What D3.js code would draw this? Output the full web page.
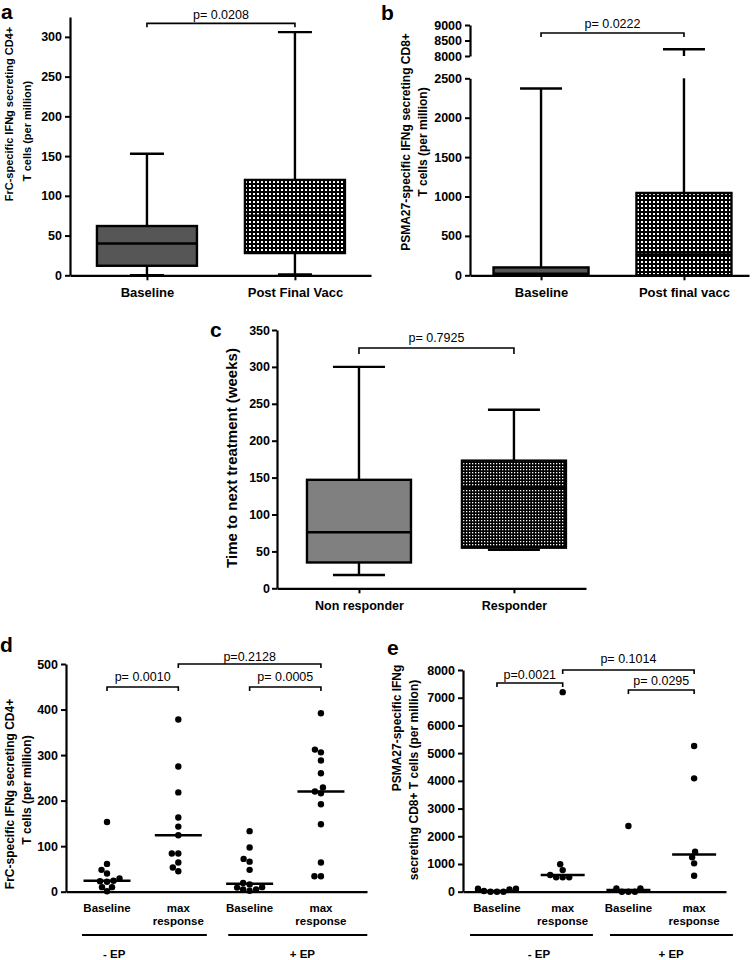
<!DOCTYPE html>
<html>
<head>
<meta charset="utf-8">
<script src="https://cdn.jsdelivr.net/npm/d3@7"></script>
<style>
  body { margin: 0; background: #fff; }
</style>
</head>
<body>
<svg id="fig" width="756" height="960"></svg>
<script>
// ---- panel a : FrC CD4+ box plot
const aCats = ["Baseline", "Post Final Vacc"];
const aMin = [0, 1], aQ1 = [12, 28], aMed = [40, 75], aQ3 = [62, 120], aMax = [153, 306];
const aTicks = [0, 50, 100, 150, 200, 250, 300];

// ---- panel b : PSMA27 CD8+ box plot (broken axis)
const bCats = ["Baseline", "Post final vacc"];
const bMin = [0, 0], bQ1 = [0, 0], bMed = [20, 265], bQ3 = [100, 1045], bMax = [2370, 8220];
const bTicksLow = [0, 500, 1000, 1500, 2000, 2500];
const bTicksHigh = [8000, 8500, 9000];

// ---- panel c : time to next treatment
const cCats = ["Non responder", "Responder"];
const cMin = [18, 52], cQ1 = [35, 55], cMed = [76, 136], cQ3 = [147, 173], cMax = [300, 242];
const cTicks = [0, 50, 100, 150, 200, 250, 300, 350];

// ---- panel d : FrC scatter, -EP / +EP
const dCats = ["Baseline", "max response", "Baseline", "max response"];
const dNoEpBase = [153, 61, 48, 40, 29, 24, 23, 22, 10, 10, 1];
const dNoEpMax = [378, 275, 218, 163, 143, 124, 84, 84, 64, 53, 45];
const dEpBase = [133, 97, 72, 66, 48, 19, 16, 10, 9, 5, 5, 2];
const dEpMax = [392, 312, 306, 288, 260, 229, 220, 216, 192, 148, 64, 34, 34];
const dTicks = [0, 100, 200, 300, 400, 500];

// ---- panel e : PSMA27 scatter, -EP / +EP
const eCats = ["Baseline", "max response", "Baseline", "max response"];
const eNoEpBase = [108, 84, 0, 0, 0, 24, 108];
const eNoEpMax = [7200, 990, 780, 600, 517, 517, 517];
const eEpBase = [2370, 120, 0, 0, 0, 120];
const eEpMax = [5257, 4090, 1444, 1240, 1023, 578];
const eTicks = [0, 1000, 2000, 3000, 4000, 5000, 6000, 7000, 8000];

const groups = ["- EP", "+ EP"];

// p-value brackets: [from, to, level (data units), label]
const aP = [[0, 1, 317, "p= 0.0208"]];
const bP = [[0, 1, 8742, "p= 0.0222"]];
const cP = [[0, 1, 325.6, "p= 0.7925"]];
const dP = [[0, 1, 449.5, "p= 0.0010"], [1, 3, 500, "p=0.2128"], [2, 3, 449.5, "p= 0.0005"]];
const eP = [[0, 1, 7531, "p=0.0021"], [1, 3, 8000, "p= 0.1014"], [2, 3, 7279, "p= 0.0295"]];

const FONT = '"Liberation Sans", Arial, Helvetica, sans-serif';
const fmt = d3.format("d");
const svg = d3.select("#fig");

// fills
const defs = svg.append("defs");
const pa = defs.append("pattern").attr("id", "checkA")
  .attr("width", 4).attr("height", 4).attr("patternUnits", "userSpaceOnUse");
pa.append("rect").attr("width", 4).attr("height", 4).attr("fill", "#000");
pa.append("rect").attr("x", 1).attr("y", 1).attr("width", 2).attr("height", 2).attr("fill", "#fff");
const pc = defs.append("pattern").attr("id", "checkC")
  .attr("width", 3).attr("height", 3).attr("patternUnits", "userSpaceOnUse");
pc.append("rect").attr("width", 3).attr("height", 3).attr("fill", "#000");
pc.append("rect").attr("x", 1).attr("y", 1).attr("width", 1.3).attr("height", 1.3).attr("fill", "#fff");

function styleAxis(g, size) {
  g.attr("font-family", FONT).attr("font-size", size).attr("font-weight", "bold");
  g.select(".domain").attr("stroke-width", 2.2);
  g.selectAll(".tick line").attr("stroke-width", 2);
  g.selectAll(".tick text").attr("fill", "#000");
}

function yLabel(lines) {
  lines.forEach(([txt, x, y, size]) => {
    svg.append("text")
      .attr("transform", `translate(${x},${y}) rotate(-90)`)
      .attr("text-anchor", "middle")
      .attr("font-family", FONT).attr("font-weight", "bold").attr("font-size", size)
      .text(txt);
  });
}

function letter(t, x, y) {
  svg.append("text").attr("x", x).attr("y", y)
    .attr("font-family", FONT).attr("font-weight", "bold").attr("font-size", 21)
    .text(t);
}

function brackets(list, x, y, drop, gap) {
  list.forEach(([i, j, lvl, lab], k) => {
    const yy = y(lvl);
    svg.append("path")
      .attr("d", `M${x(i)},${yy + drop}V${yy}H${x(j)}V${yy + drop}`)
      .attr("fill", "none").attr("stroke", "#000").attr("stroke-width", 1.6);
    svg.append("text")
      .attr("x", (x(i) + x(j)) / 2).attr("y", yy - gap[k])
      .attr("text-anchor", "middle")
      .attr("font-family", FONT).attr("font-size", 12.5)
      .text(lab);
  });
}

function box(i, x, y, st, w, cap, fill) {
  const [mn, q1, md, q3, mx] = st;
  const cx = x(i);
  const g = svg.append("g").attr("stroke", "#000").attr("stroke-width", 2.4);
  g.append("line").attr("x1", cx).attr("x2", cx).attr("y1", y(q3)).attr("y2", y(mx));
  g.append("line").attr("x1", cx).attr("x2", cx).attr("y1", y(q1)).attr("y2", y(mn));
  g.append("line").attr("x1", cx - cap / 2).attr("x2", cx + cap / 2).attr("y1", y(mx)).attr("y2", y(mx));
  g.append("line").attr("x1", cx - cap / 2).attr("x2", cx + cap / 2).attr("y1", y(mn)).attr("y2", y(mn));
  g.append("rect").attr("x", cx - w / 2).attr("width", w)
    .attr("y", y(q3)).attr("height", Math.max(1, y(q1) - y(q3))).attr("fill", fill);
  g.append("line").attr("x1", cx - w / 2).attr("x2", cx + w / 2).attr("y1", y(md)).attr("y2", y(md));
}

// greedy beeswarm around a category centre
function swarm(vals, cx, y, r) {
  const placed = [];
  vals.map(v => y(v)).sort((p, q) => q - p).forEach(py => {
    let off = 0;
    for (let k = 0; k < 400; k++) {
      const c = k === 0 ? 0 : (k % 2 ? -1 : 1) * Math.ceil(k / 2) * 0.5;
      if (placed.every(p => Math.hypot(p.x - (cx + c), p.y - py) >= 2 * r - 0.2)) { off = c; break; }
    }
    placed.push({ x: cx + off, y: py });
  });
  return placed;
}

// ================= panel a
{
  const x = d3.scaleLinear().domain([-0.52, 1.514]).range([70, 371]);
  const y = d3.scaleLinear().domain([0, 325]).range([275.3, 17]);
  const ga = svg.append("g").attr("transform", "translate(70,0)")
    .call(d3.axisLeft(y).tickValues(aTicks).tickFormat(fmt).tickSize(5).tickSizeOuter(0).tickPadding(3));
  styleAxis(ga, 12.5);
  const gx = svg.append("g").attr("transform", "translate(0,275.3)")
    .call(d3.axisBottom(x).tickValues([0, 1]).tickFormat(i => aCats[i]).tickSize(5).tickSizeOuter(0).tickPadding(7));
  styleAxis(gx, 13);
  const fills = ["#565656", "url(#checkA)"];
  aCats.forEach((c, i) => box(i, x, y, [aMin[i], aQ1[i], aMed[i], aQ3[i], aMax[i]], 100, 34, fills[i]));
  brackets(aP, x, y, 4, [4]);
  yLabel([["FrC-specific IFNg secreting CD4+", 13, 114, 11], ["T cells (per million)", 31, 131, 11]]);
  letter("a", 1, 19);
}

// ================= panel b
{
  const x = d3.scaleLinear().domain([-0.497, 1.455]).range([470, 749]);
  const yLo = d3.scaleLinear().domain([0, 2500]).range([275.3, 78.3]);
  const yHi = d3.scaleLinear().domain([8000, 9000]).range([56, 25]);
  const y = v => (v <= 2500 ? yLo(v) : yHi(v));
  const g1 = svg.append("g").attr("transform", "translate(470,0)")
    .call(d3.axisLeft(yLo).tickValues(bTicksLow).tickFormat(fmt).tickSize(5).tickSizeOuter(0).tickPadding(3));
  styleAxis(g1, 12.5);
  const g2 = svg.append("g").attr("transform", "translate(470,0)")
    .call(d3.axisLeft(yHi).tickValues(bTicksHigh).tickFormat(fmt).tickSize(5).tickSizeOuter(0).tickPadding(3));
  styleAxis(g2, 12.5);
  const gx = svg.append("g").attr("transform", "translate(0,275.3)")
    .call(d3.axisBottom(x).tickValues([0, 1]).tickFormat(i => bCats[i]).tickSize(5).tickSizeOuter(0).tickPadding(7));
  styleAxis(gx, 13);

  // baseline box: plain
  box(0, x, y, [bMin[0], bQ1[0], bMed[0], bQ3[0], bMax[0]], 95, 42, "#565656");
  // post box: whisker broken between 2500 and 8000
  const cx = x(1);
  const g = svg.append("g").attr("stroke", "#000").attr("stroke-width", 2.4);
  g.append("line").attr("x1", cx).attr("x2", cx).attr("y1", yLo(bQ3[1])).attr("y2", yLo(2500));
  g.append("line").attr("x1", cx).attr("x2", cx).attr("y1", yHi(8000)).attr("y2", yHi(bMax[1]));
  g.append("line").attr("x1", cx - 21).attr("x2", cx + 21).attr("y1", yHi(bMax[1])).attr("y2", yHi(bMax[1]));
  g.append("rect").attr("x", cx - 47.5).attr("width", 95)
    .attr("y", yLo(bQ3[1])).attr("height", yLo(bQ1[1]) - yLo(bQ3[1])).attr("fill", "url(#checkA)");
  g.append("line").attr("x1", cx - 47.5).attr("x2", cx + 47.5).attr("y1", yLo(bMed[1])).attr("y2", yLo(bMed[1]));

  brackets(bP, x, y, 4, [5]);
  yLabel([["PSMA27-specific IFNg secreting CD8+", 410, 142, 12], ["T cells (per million)", 427, 142, 12]]);
  letter("b", 381, 20);
}

// ================= panel c
{
  const x = d3.scaleLinear().domain([-0.529, 1.465]).range([277, 586]);
  const y = d3.scaleLinear().domain([0, 350]).range([588.3, 330]);
  const ga = svg.append("g").attr("transform", "translate(277,0)")
    .call(d3.axisLeft(y).tickValues(cTicks).tickFormat(fmt).tickSize(5).tickSizeOuter(0).tickPadding(2));
  styleAxis(ga, 12.5);
  const gx = svg.append("g").attr("transform", "translate(0,588.3)")
    .call(d3.axisBottom(x).tickValues([0, 1]).tickFormat(i => cCats[i]).tickSize(5).tickSizeOuter(0).tickPadding(8));
  styleAxis(gx, 12.5);
  const fills = ["#808080", "url(#checkC)"];
  cCats.forEach((c, i) => box(i, x, y, [cMin[i], cQ1[i], cMed[i], cQ3[i], cMax[i]], 104, 52, fills[i]));
  brackets(cP, x, y, 6, [6]);
  yLabel([["Time to next treatment (weeks)", 237, 458, 15]]);
  letter("c", 210, 337);
}

// scatter panel helper
function scatter(x, y, sets, lineW) {
  sets.forEach((vals, i) => {
    swarm(vals, x(i), y, 3.2).forEach(p => {
      svg.append("circle").attr("cx", p.x).attr("cy", p.y).attr("r", 3.2).attr("fill", "#000");
    });
    const m = d3.median(vals);
    svg.append("line").attr("x1", x(i) - lineW / 2).attr("x2", x(i) + lineW / 2)
      .attr("y1", y(m)).attr("y2", y(m)).attr("stroke", "#000").attr("stroke-width", 2.4);
  });
}

function catLabels(x, cats, y0) {
  cats.forEach((c, i) => {
    const t = svg.append("text").attr("x", x(i)).attr("y", y0).attr("text-anchor", "middle")
      .attr("font-family", FONT).attr("font-weight", "bold").attr("font-size", 11.5);
    c.split(" ").forEach((w, k) => t.append("tspan").attr("x", x(i)).attr("dy", k ? 13.5 : 0).text(w));
  });
}

function groupBars(x, spans, labX, yLine, yText) {
  spans.forEach(([a, b], k) => {
    svg.append("line").attr("x1", x(a)).attr("x2", x(b)).attr("y1", yLine).attr("y2", yLine)
      .attr("stroke", "#000").attr("stroke-width", 2);
    svg.append("text").attr("x", x(labX[k])).attr("y", yText).attr("text-anchor", "middle")
      .attr("font-family", FONT).attr("font-weight", "bold").attr("font-size", 11.5)
      .text(groups[k]);
  });
}

// ================= panel d
{
  const x = d3.scaleLinear().domain([-0.575, 3.646]).range([66, 367]);
  const y = d3.scaleLinear().domain([0, 500]).range([891.7, 664]);
  const ga = svg.append("g").attr("transform", "translate(66,0)")
    .call(d3.axisLeft(y).tickValues(dTicks).tickFormat(fmt).tickSize(5).tickSizeOuter(0).tickPadding(3));
  styleAxis(ga, 12.5);
  const gx = svg.append("g").attr("transform", "translate(0,891.7)")
    .call(d3.axisBottom(x).tickValues([]).tickSizeOuter(0));
  styleAxis(gx, 12);
  scatter(x, y, [dNoEpBase, dNoEpMax, dEpBase, dEpMax], 47);
  catLabels(x, dCats, 911.5);
  groupBars(x, [[-0.35, 1.4], [1.7, 3.65]], [0.1, 2.74], 935, 958);
  brackets(dP, x, y, 4, [6, 3, 6]);
  yLabel([["FrC-specific IFNg secreting CD4+", 13.5, 794, 12], ["T cells (per million)", 31, 790, 12]]);
  letter("d", 0, 652);
}

// ================= panel e
{
  const x = d3.scaleLinear().domain([-0.517, 3.485]).range([463, 726]);
  const y = d3.scaleLinear().domain([0, 8000]).range([891.7, 670]);
  const ga = svg.append("g").attr("transform", "translate(463,0)")
    .call(d3.axisLeft(y).tickValues(eTicks).tickFormat(fmt).tickSize(5).tickSizeOuter(0).tickPadding(3));
  styleAxis(ga, 12.5);
  const gx = svg.append("g").attr("transform", "translate(0,891.7)")
    .call(d3.axisBottom(x).tickValues([]).tickSizeOuter(0));
  styleAxis(gx, 12);
  scatter(x, y, [eNoEpBase, eNoEpMax, eEpBase, eEpMax], 44);
  catLabels(x, eCats, 911.5);
  groupBars(x, [[-0.41, 1.46], [1.72, 3.59]], [0.64, 2.65], 935, 958);
  brackets(eP, x, y, 4, [4, 7, 5]);
  yLabel([["PSMA27-specific IFNg", 401, 728, 12], ["secreting CD8+ T cells (per million)", 418, 780, 12]]);
  letter("e", 387, 655);
}
</script>
</body>
</html>
